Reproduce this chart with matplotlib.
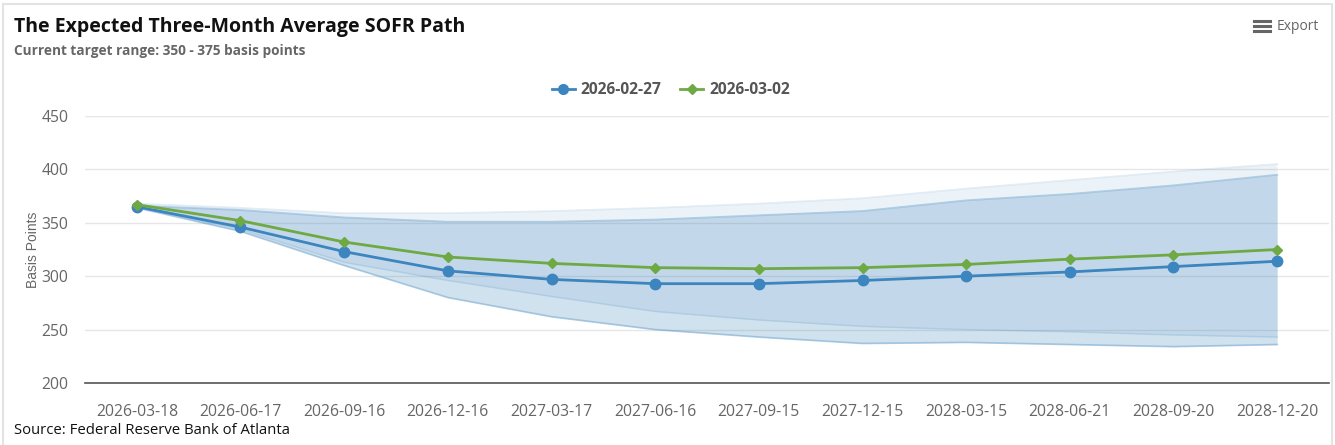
import matplotlib.pyplot as plt
from matplotlib.lines import Line2D
from matplotlib.patches import Rectangle

plt.rcParams['font.family'] = ['Open Sans', 'DejaVu Sans']

# meeting dates on the x axis
dates = ['2026-03-18', '2026-06-17', '2026-09-16', '2026-12-16', '2027-03-17', '2027-06-16',
         '2027-09-15', '2027-12-15', '2028-03-15', '2028-06-21', '2028-09-20', '2028-12-20']

# expected 3m average SOFR (bp)
sofr_0227 = [365, 346, 323, 305, 297, 293, 293, 296, 300, 304, 309, 314]
sofr_0302 = [367, 352, 332, 318, 312, 308, 307, 308, 311, 316, 320, 325]

# uncertainty bands
band_0227_hi = [366, 362, 355, 351, 351, 353, 357, 361, 371, 377, 385, 395]
band_0227_lo = [364, 342, 310, 280, 262, 250, 243, 237, 238, 236, 234, 236]
band_0302_hi = [368, 364, 359, 359, 361, 364, 368, 373, 382, 390, 398, 405]
band_0302_lo = [365, 344, 313, 296, 281, 267, 259, 253, 250, 248, 245, 243]

blue = '#3d85bf'
green = '#6fa944'
band_col = (65 / 255, 135 / 255, 190 / 255)

fig = plt.figure(figsize=(13.35, 4.45), dpi=100)
ax = fig.add_axes([85 / 1335, 1 - 383 / 445, 1244 / 1335, 267 / 445])

x = list(range(len(dates)))

# bands
ax.fill_between(x, band_0302_lo, band_0302_hi, color=band_col, alpha=0.1, lw=0)
ax.plot(x, band_0302_hi, color=band_col, alpha=0.15, lw=1.2)
ax.plot(x, band_0302_lo, color=band_col, alpha=0.15, lw=1.2)
ax.fill_between(x, band_0227_lo, band_0227_hi, color=band_col, alpha=0.24, lw=0)
ax.plot(x, band_0227_hi, color=band_col, alpha=0.35, lw=1.3)
ax.plot(x, band_0227_lo, color=band_col, alpha=0.35, lw=1.3)

# expected paths
ax.plot(x, sofr_0227, color=blue, lw=2, marker='o', ms=7.5, zorder=5)
ax.plot(x, sofr_0302, color=green, lw=2, marker='D', ms=5.5, zorder=5)

ax.set_xlim(-0.5, len(dates) - 0.5)
ax.set_ylim(200, 450)
ax.set_yticks([200, 250, 300, 350, 400, 450])
ax.set_xticks(x)
ax.set_xticklabels(dates)
ax.grid(axis='y', color='#e6e6e6', lw=1)
ax.set_axisbelow(True)
for s in ['top', 'right', 'left']:
    ax.spines[s].set_visible(False)
ax.spines['bottom'].set_color('#555555')
ax.spines['bottom'].set_linewidth(1.2)
ax.tick_params(axis='both', length=0, colors='#666666', labelsize=11.3)
ax.tick_params(axis='x', pad=15)
ax.tick_params(axis='y', pad=12)
ax.set_ylabel('Basis Points', family=['Liberation Sans', 'DejaVu Sans'], fontsize=10,
              color='#666666', labelpad=1)

# legend
handles = [Line2D([], [], color=blue, lw=2, marker='o', ms=7),
           Line2D([], [], color=green, lw=2, marker='D', ms=5)]
leg = fig.legend(handles, ['2026-02-27', '2026-03-02'], loc='center', ncol=2,
                 bbox_to_anchor=(671 / 1335, 1 - 90 / 445), frameon=False,
                 prop={'weight': 'bold', 'size': 11.2}, handlelength=1.45,
                 handletextpad=0.4, columnspacing=1.2)
for t in leg.get_texts():
    t.set_color('#555555')

# header and footer
fig.text(14 / 1335, 1 - 27 / 445, 'The Expected Three-Month Average SOFR Path',
         fontsize=14, fontweight='bold', color='#111111', va='center')
fig.text(14 / 1335, 1 - 51 / 445, 'Current target range: 350 - 375 basis points',
         fontsize=9.8, fontweight='bold', color='#666666', va='center')
fig.text(14 / 1335, 1 - 431 / 445, 'Source: Federal Reserve Bank of Atlanta',
         fontsize=10.7, color='#111111', va='center')

# export button
for dy in (-5, 0, 5):
    fig.add_artist(Line2D([1254 / 1335, 1270 / 1335],
                          [1 - (26 + dy) / 445] * 2, color='#666666', lw=2.2))
fig.text(1277 / 1335, 1 - 27 / 445, 'Export', fontsize=10, color='#666666', va='center')

# outer frame
fig.add_artist(Rectangle((3 / 1335, -0.1), 1329 / 1335, 1.1 - 4 / 445, fill=False,
                         edgecolor='#e3e3e3', lw=1.5, transform=fig.transFigure))

fig.savefig('out.png', dpi=100)
